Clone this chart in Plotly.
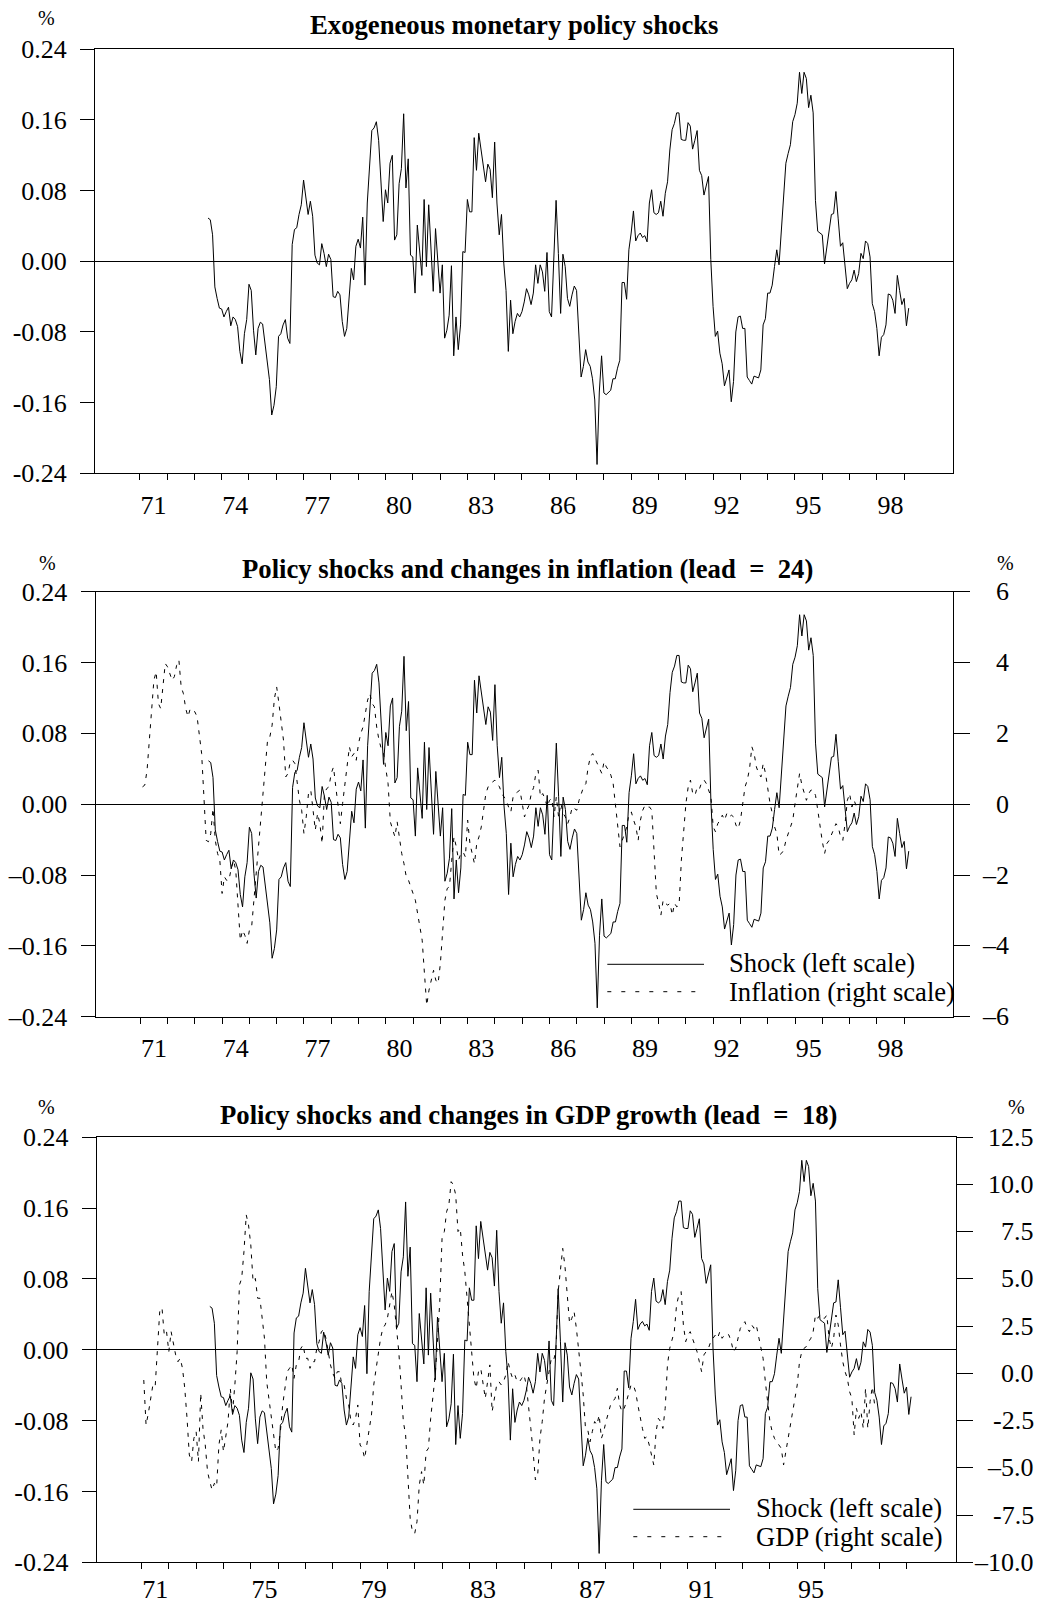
import plotly.graph_objects as go

# ---------------------------------------------------------------- data
# Monthly monetary policy shock series (percent), first observation 1973:07
SHOCK_START = (1973, 7)
SHOCK = [
    0.049, 0.047, 0.030, -0.029, -0.042, -0.053, -0.054, -0.063, -0.057, -0.052,
    -0.073, -0.063, -0.066, -0.074, -0.102, -0.116, -0.082, -0.066, -0.026, -0.033,
    -0.078, -0.106, -0.076, -0.069, -0.071, -0.093, -0.114, -0.134, -0.174, -0.163,
    -0.142, -0.085, -0.082, -0.072, -0.066, -0.087, -0.093, 0.019, 0.036, 0.038,
    0.053, 0.064, 0.092, 0.073, 0.053, 0.068, 0.051, 0.007, -0.002, -0.004,
    0.020, 0.009, -0.006, 0.008, 0.002, -0.040, -0.041, -0.034, -0.038, -0.068,
    -0.085, -0.076, -0.040, -0.008, -0.021, 0.017, 0.025, 0.015, 0.050, -0.027,
    0.066, 0.103, 0.148, 0.151, 0.158, 0.137, 0.085, 0.045, 0.081, 0.066,
    0.111, 0.120, 0.024, 0.030, 0.088, 0.105, 0.167, 0.083, 0.116, 0.007,
    0.005, -0.036, 0.041, 0.015, -0.016, 0.070, -0.006, 0.064, 0.017, -0.034,
    0.037, 0.002, -0.036, -0.004, -0.087, -0.078, -0.061, -0.005, -0.107, -0.063,
    -0.100, -0.072, 0.011, 0.010, 0.070, 0.056, 0.056, 0.140, 0.103, 0.145,
    0.126, 0.103, 0.090, 0.110, 0.104, 0.072, 0.135, 0.066, 0.030, 0.053,
    -0.002, -0.033, -0.102, -0.044, -0.082, -0.068, -0.059, -0.063, -0.057, -0.046,
    -0.031, -0.038, -0.049, -0.036, -0.004, -0.025, -0.004, -0.012, -0.034, 0.010,
    -0.057, -0.063, 0.009, 0.069, 0.009, -0.059, 0.008, -0.006, -0.042, -0.051,
    -0.038, -0.028, -0.033, -0.076, -0.131, -0.119, -0.100, -0.114, -0.119, -0.133,
    -0.157, -0.230, -0.148, -0.107, -0.149, -0.151, -0.149, -0.146, -0.133, -0.133,
    -0.121, -0.112, -0.024, -0.024, -0.043, 0.013, 0.032, 0.057, 0.023, 0.029,
    0.032, 0.027, 0.029, 0.022, 0.066, 0.081, 0.055, 0.053, 0.055, 0.068,
    0.051, 0.077, 0.090, 0.126, 0.149, 0.156, 0.168, 0.168, 0.138, 0.137,
    0.137, 0.157, 0.153, 0.127, 0.137, 0.148, 0.103, 0.097, 0.075, 0.086,
    0.096, 0.002, -0.051, -0.085, -0.079, -0.104, -0.116, -0.141, -0.133, -0.123,
    -0.159, -0.136, -0.080, -0.063, -0.062, -0.076, -0.076, -0.131, -0.135, -0.139,
    -0.130, -0.131, -0.132, -0.123, -0.072, -0.065, -0.036, -0.036, -0.027, -0.006,
    0.013, -0.004, 0.036, 0.077, 0.111, 0.122, 0.132, 0.158, 0.166, 0.179,
    0.214, 0.190, 0.214, 0.207, 0.174, 0.188, 0.168, 0.069, 0.034, 0.032,
    0.030, -0.003, 0.017, 0.039, 0.053, 0.054, 0.079, 0.048, 0.017, 0.021,
    -0.006, -0.031, -0.025, -0.021, -0.010, -0.023, -0.014, 0.009, 0.003, 0.023,
    0.020, 0.005, -0.048, -0.057, -0.076, -0.107, -0.086, -0.083, -0.072, -0.037,
    -0.038, -0.044, -0.059, -0.016, -0.033, -0.049, -0.042, -0.073, -0.053,
]

# Change in inflation, shifted 24 months, first observation 1971:02
INFL_START = (1971, 2)
INFLATION = [
    0.49, 0.54, 0.96, 1.90, 2.70, 3.50, 3.74, 2.84, 2.70, 3.31,
    3.97, 3.88, 3.69, 3.50, 3.60, 3.92, 4.07, 3.31, 3.12, 2.70,
    2.47, 2.70, 2.65, 2.61, 2.47, 2.00, 1.43, 0.21, -1.02, -1.06,
    -0.83, -0.12, -1.02, -1.39, -1.58, -2.52, -2.05, -2.15, -2.15, -1.82,
    -1.58, -1.86, -2.99, -3.84, -3.56, -3.70, -3.93, -3.56, -3.46, -2.71,
    -1.91, -1.20, -0.55, 0.21, 1.05, 1.81, 1.90, 2.23, 2.98, 3.31,
    2.84, 2.37, 1.81, 0.77, 0.87, 1.20, 1.24, 1.15, 0.68, 0.11,
    -0.17, -0.83, -0.36, 0.30, 0.40, -0.17, -0.73, -0.26, -0.55, -1.11,
    0.30, 0.44, 0.49, 0.87, 1.05, 0.49, -0.08, -0.55, 0.02, 0.58,
    1.05, 1.62, 1.34, 1.43, 1.24, 1.71, 2.00, 2.18, 2.56, 2.94,
    3.12, 2.84, 2.75, 2.18, 1.81, 1.57, 1.43, 0.96, 0.58, -0.50,
    -0.73, -0.92, -0.50, -1.02, -1.39, -1.68, -2.05, -2.15, -2.33, -2.52,
    -2.71, -3.09, -3.46, -3.84, -4.78, -5.68, -5.25, -4.97, -4.69, -4.97,
    -5.06, -4.50, -3.65, -2.71, -2.38, -2.33, -1.58, -0.92, -1.20, -1.58,
    -1.39, -1.35, -1.49, -0.45, -1.11, -1.39, -1.68, -1.11, -0.92, -0.64,
    -0.08, 0.30, 0.49, 0.58, 0.63, 0.68, 0.58, 0.49, 0.30, 0.21,
    0.11, -0.08, -0.22, 0.21, 0.30, 0.35, 0.40, 0.02, -0.36, -0.17,
    -0.03, 0.30, 0.47, 0.87, 0.96, 0.21, 0.30, 0.16, -0.08, 0.11,
    0.16, -0.36, 0.21, -0.36, 0.02, -0.26, -0.36, -0.55, -0.36, -0.08,
    -0.12, -0.17, 0.11, 0.30, 0.49, 0.58, 1.05, 1.34, 1.43, 1.29,
    1.15, 0.96, 0.87, 1.20, 1.05, 0.96, 0.82, 0.58, 0.02, -0.64,
    -1.20, -1.02, -0.83, -0.64, -0.26, -0.22, -0.45, -0.64, -1.02, -0.45,
    -0.17, -0.03, -0.08, -0.08, -0.17, -1.58, -2.52, -2.80, -3.13, -2.71,
    -2.80, -2.85, -2.80, -3.13, -2.80, -2.90, -2.85, -1.58, -0.64, 0.02,
    0.49, 0.68, 0.30, 0.25, 0.49, 0.44, 0.63, 0.68, 0.58, 0.40,
    0.21, -0.64, -0.78, -0.55, -0.45, -0.31, -0.45, -0.26, -0.36, -0.31,
    -0.36, -0.59, -0.69, -0.45, 0.11, 0.49, 0.68, 1.01, 1.62, 1.43,
    1.05, 0.87, 0.77, 1.15, 0.87, 0.40, 0.02, -0.26, -0.64, -0.83,
    -1.44, -1.39, -1.30, -1.02, -0.83, -0.64, -0.45, 0.02, 0.49, 0.87,
    0.54, 0.35, 0.11, 0.30, 0.40, 0.40, 0.25, -0.17, -0.64, -1.06,
    -1.39, -1.11, -1.02, -0.88, -0.73, -0.55, -0.64, -0.92, -1.02, -0.55,
    0.11, 0.30, -0.08, 0.11, -0.08,
]

# Change in GDP growth, shifted 18 months, first observation 1971:02
GDP_START = (1971, 2)
GDP = [
    -0.35, -2.73, -2.11, -1.32, -0.61, -0.70, 1.68, 3.27, 3.48, 2.03,
    2.21, 1.15, 2.21, 1.51, 0.98, 0.62, 0.80, 0.27, -0.79, -2.38,
    -4.32, -4.67, -3.44, -3.08, -4.67, -1.05, -2.91, -3.79, -5.20, -5.73,
    -6.17, -5.82, -5.99, -3.79, -2.99, -4.14, -3.26, -2.55, -0.79, -2.02,
    -0.61, 1.15, 4.68, 5.03, 6.45, 8.39, 7.86, 6.80, 4.86, 5.03,
    3.98, 3.98, 2.92, 1.86, -0.45, -1.32, -2.38, -3.08, -4.14, -3.97,
    -3.08, -1.67, -0.79, 0.09, 0.27, 0.45, -0.26, 0.45, 0.62, 1.33,
    1.51, 0.80, 0.80, 0.27, 0.62, 0.62, 1.33, 1.68, 2.21, 2.30,
    1.86, 1.15, 0.45, 0.01, -0.26, 0.09, 0.09, -0.61, -0.61, -1.32,
    -1.67, -2.55, -2.73, -2.38, -1.67, -3.79, -3.97, -4.50, -3.79, -3.08,
    -2.20, -0.61, 0.27, 1.15, 1.86, 2.39, 2.57, 2.92, 3.62, 4.33,
    3.62, 2.39, 1.15, -0.61, -2.55, -3.26, -5.20, -7.67, -8.38, -8.47,
    -7.85, -5.91, -5.20, -5.91, -4.14, -3.97, -2.38, -1.14, -0.08, 1.68,
    3.80, 7.15, 7.51, 8.56, 8.92, 10.15, 9.98, 9.45, 7.51, 7.68,
    6.27, 5.39, 3.98, 2.57, 1.15, -0.26, -0.79, 0.09, 0.27, -0.61,
    -1.32, -0.44, 0.45, -2.02, -1.32, -0.61, -0.44, -0.61, -0.44, -0.08,
    0.62, 0.09, -0.26, -0.08, -0.44, -0.44, -0.26, -0.08, -0.61, -1.67,
    -2.91, -4.14, -5.64, -5.38, -3.44, -2.55, -1.32, -0.61, 0.09, 0.80,
    0.71, 1.15, 4.33, 5.39, 6.62, 5.65, 4.33, 2.65, 2.92, 3.27,
    2.39, 1.33, 0.09, -1.14, -2.91, -2.99, -3.62, -3.08, -2.55, -2.73,
    -2.20, -3.44, -3.08, -2.55, -2.02, -1.67, -1.49, -1.32, -0.79, -1.67,
    -2.02, -1.85, -1.49, -1.05, -0.61, -0.61, -0.97, -1.67, -2.38, -2.91,
    -3.44, -3.35, -3.79, -4.32, -4.85, -3.08, -2.38, -2.55, -2.91, -1.85,
    0.45, 1.33, 1.86, 2.21, 3.62, 4.15, 4.33, 2.57, 1.68, 2.03,
    2.21, 1.86, 1.51, 1.15, 0.62, 0.09, 0.98, 1.15, 1.33, 1.68,
    1.86, 2.03, 1.86, 2.21, 1.86, 2.03, 2.12, 2.03, 1.68, 1.15,
    1.33, 1.86, 2.39, 2.57, 2.74, 2.39, 2.21, 2.57, 2.39, 2.57,
    2.03, 1.51, 0.80, -0.44, -1.49, -2.55, -3.08, -3.44, -3.62, -3.79,
    -3.97, -4.85, -4.14, -3.44, -2.73, -2.20, -1.32, -0.61, 0.62, 1.15,
    1.33, 1.42, 1.68, 1.86, 2.21, 3.09, 2.92, 3.09, 2.92, 2.92,
    3.09, 1.86, 1.33, 1.86, 3.09, 2.57, 1.51, 0.62, 0.09, -0.26,
    -0.97, -1.32, -3.26, -1.85, -2.38, -2.02, -2.91, -0.79, -2.91, -1.49,
    -0.70, -1.67,
]

# Axis ticks and labels
SHOCK_TICKS = [-0.24, -0.16, -0.08, 0.0, 0.08, 0.16, 0.24]
SHOCK_TEXT_HYPHEN = ["-0.24", "-0.16", "-0.08", "0.00", "0.08", "0.16", "0.24"]
SHOCK_TEXT_DASH = ["\u20130.24", "\u20130.16", "\u20130.08", "0.00", "0.08", "0.16", "0.24"]
INFL_TICKS = [-6, -4, -2, 0, 2, 4, 6]
INFL_TEXT = ["\u20136", "\u20134", "\u20132", "0", "2", "4", "6"]
GDP_TICKS = [-10.0, -7.5, -5.0, -2.5, 0.0, 2.5, 5.0, 7.5, 10.0, 12.5]
GDP_TEXT = ["\u201310.0", "-7.5", "\u20135.0", "-2.5", "0.0", "2.5", "5.0", "7.5", "10.0", "12.5"]
YEARS_3 = [71, 74, 77, 80, 83, 86, 89, 92, 95, 98]
YEARS_4 = [71, 75, 79, 83, 87, 91, 95]
YEAR_MARKS = list(range(1971, 2000))

TITLES = [
    "Exogeneous monetary policy shocks",
    "Policy shocks and changes in inflation (lead\u00a0\u00a0=\u00a0\u00a024)",
    "Policy shocks and changes in GDP growth (lead\u00a0\u00a0=\u00a0\u00a018)",
]
LEGEND_2 = ["Shock (left scale)", "Inflation (right scale)"]
LEGEND_3 = ["Shock (left scale)", "GDP (right scale)"]

# ---------------------------------------------------------------- helpers
W, H = 1045, 1605
FONT = "Liberation Serif"
X_RANGE = [1969.36, 2000.80]
DATA_DASH = "4px,6px"
TICK_SIZE = 26


def months(start, n):
    y, m = start
    base = y + (m - 1) / 12.0
    return [base + i / 12.0 for i in range(n)]


def fx(px):
    return px / W


def fy(py):
    return 1 - py / H


def tick_font(size=TICK_SIZE):
    return dict(family=FONT, size=size, color="black")


def x_axis(domain, label_years, anchor, standoff=8):
    return dict(
        domain=domain, anchor=anchor, range=X_RANGE, automargin=False,
        showgrid=False, zeroline=False,
        showline=True, linecolor="black", linewidth=1, mirror=True,
        tickmode="array",
        tickvals=[1900 + y + 0.5 for y in label_years],
        ticktext=[f"{y:02d}" for y in label_years],
        ticks="outside", ticklen=0, tickcolor="black",
        tickfont=tick_font(), ticklabelstandoff=standoff,
        minor=dict(tickmode="array", tickvals=YEAR_MARKS, ticks="outside",
                   ticklen=6, tickwidth=1, tickcolor="black", showgrid=False),
    )


def left_axis(domain, anchor, text):
    return dict(
        domain=domain, anchor=anchor, range=[-0.24, 0.24], automargin=False,
        tickmode="array", tickvals=SHOCK_TICKS, ticktext=text,
        ticks="outside", ticklen=14, tickcolor="black", tickwidth=1,
        showline=True, linecolor="black", linewidth=1, mirror=True,
        showgrid=False, zeroline=True, zerolinecolor="black", zerolinewidth=1,
        tickfont=tick_font(), ticklabelstandoff=8,
    )


def right_axis(overlay, anchor, rng, ticks):
    return dict(
        overlaying=overlay, anchor=anchor, side="right", range=rng, automargin=False,
        tickmode="array", tickvals=ticks,
        ticks="outside", ticklen=16, tickcolor="black", tickwidth=1,
        showticklabels=False, showline=True, linecolor="black", linewidth=1,
        showgrid=False, zeroline=False,
    )


# ---------------------------------------------------------------- figure
fig = go.Figure()

shock_x = months(SHOCK_START, len(SHOCK))
infl_x = months(INFL_START, len(INFLATION))
gdp_x = months(GDP_START, len(GDP))

solid = dict(color="black", width=1)
dashed = dict(color="black", width=1, dash=DATA_DASH)

fig.add_trace(go.Scatter(x=shock_x, y=SHOCK, mode="lines", line=solid,
                         xaxis="x", yaxis="y", name="Shock"))
fig.add_trace(go.Scatter(x=infl_x, y=INFLATION, mode="lines", line=dashed,
                         xaxis="x2", yaxis="y3", name="Inflation"))
fig.add_trace(go.Scatter(x=shock_x, y=SHOCK, mode="lines", line=solid,
                         xaxis="x2", yaxis="y2", name="Shock"))
fig.add_trace(go.Scatter(x=gdp_x, y=GDP, mode="lines", line=dashed,
                         xaxis="x3", yaxis="y5", name="GDP"))
fig.add_trace(go.Scatter(x=shock_x, y=SHOCK, mode="lines", line=solid,
                         xaxis="x3", yaxis="y4", name="Shock"))

# panel frames in pixels: (left, right, top, bottom)
P1 = (95.0, 953.3, 49.3, 473.3)
P2 = (95.5, 953.3, 591.7, 1016.7)
P3 = (96.7, 955.7, 1137.3, 1562.3)


def xdom(p):
    return [fx(p[0]), fx(p[1])]


def ydom(p):
    return [fy(p[3]), fy(p[2])]


annotations = []


def text(x, y, s, size=TICK_SIZE, xanchor="center", yanchor="middle",
         xref="paper", yref="paper", bold=False):
    annotations.append(dict(
        x=x, y=y, xref=xref, yref=yref, text=f"<b>{s}</b>" if bold else s,
        showarrow=False, xanchor=xanchor, yanchor=yanchor,
        font=dict(family=FONT, size=size, color="black"),
    ))


# titles
text(fx(514.3), fy(24.6), TITLES[0], size=26.7, bold=True)
text(fx(527.6), fy(569.0), TITLES[1], size=26.7, bold=True)
text(fx(528.6), fy(1114.6), TITLES[2], size=26.7, bold=True)

# unit labels
text(fx(46.0), fy(18.3), "%", size=20)
text(fx(47.7), fy(563.3), "%", size=20)
text(fx(1005.0), fy(563.3), "%", size=20)
text(fx(46.7), fy(1106.7), "%", size=20)
text(fx(1016.7), fy(1106.7), "%", size=20)

# right-hand tick labels, right aligned
for v, s in zip(INFL_TICKS, INFL_TEXT):
    text(fx(1011.0), v, s, xanchor="right", yref="y3")
for v, s in zip(GDP_TICKS, GDP_TEXT):
    text(fx(1035.5), v, s, xanchor="right", yref="y5")

# legends drawn inside panels 2 and 3
shapes = []


def legend(x0, x1, y_solid, y_dash, tx, labels):
    shapes.append(dict(type="line", xref="paper", yref="paper",
                       x0=fx(x0), x1=fx(x1), y0=fy(y_solid), y1=fy(y_solid),
                       line=dict(color="black", width=1)))
    shapes.append(dict(type="line", xref="paper", yref="paper",
                       x0=fx(x0), x1=fx(x1), y0=fy(y_dash), y1=fy(y_dash),
                       line=dict(color="black", width=1, dash="4px,10px")))
    text(fx(tx), fy(y_solid - 1.5), labels[0], size=26.6, xanchor="left")
    text(fx(tx), fy(y_dash), labels[1], size=26.6, xanchor="left")


legend(607.3, 704.0, 964.3, 991.7, 727.3, LEGEND_2)
legend(633.3, 730.0, 1509.3, 1536.7, 754.3, LEGEND_3)

fig.update_layout(
    width=W, height=H, autosize=False,
    margin=dict(l=0, r=0, t=0, b=0, pad=0),
    paper_bgcolor="white", plot_bgcolor="white",
    showlegend=False, hovermode=False,
    font=dict(family=FONT, color="black"),
    xaxis=x_axis(xdom(P1), YEARS_3, "y"),
    yaxis=left_axis(ydom(P1), "x", SHOCK_TEXT_HYPHEN),
    xaxis2=x_axis(xdom(P2), YEARS_3, "y2"),
    yaxis2=left_axis(ydom(P2), "x2", SHOCK_TEXT_DASH),
    yaxis3=right_axis("y2", "x2", [-6, 6], INFL_TICKS),
    xaxis3=x_axis(xdom(P3), YEARS_4, "y4", standoff=3),
    yaxis4=left_axis(ydom(P3), "x3", SHOCK_TEXT_HYPHEN),
    yaxis5=right_axis("y4", "x3", [-10, 12.5], GDP_TICKS),
    annotations=annotations,
    shapes=shapes,
)

fig.write_html("out.html")
